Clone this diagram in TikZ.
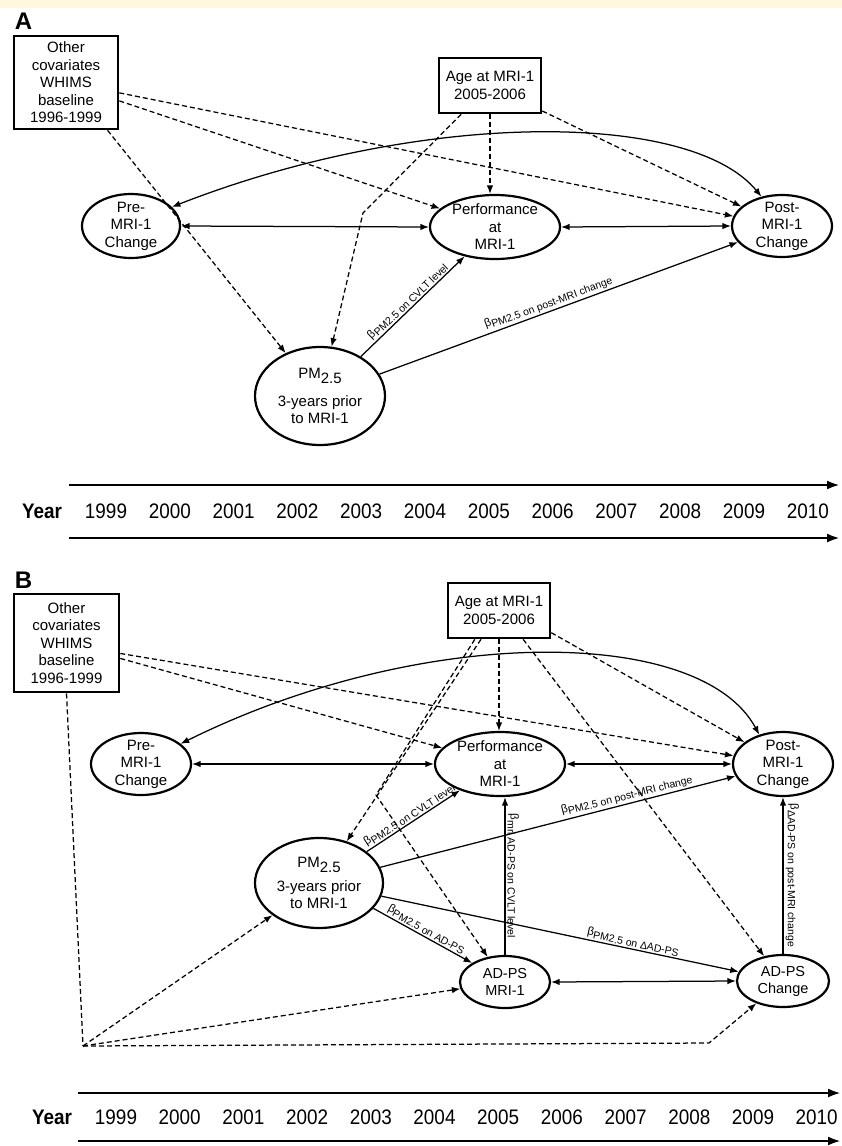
\documentclass[tikz,border=0pt]{standalone}
\usepackage{fontspec}
\setmainfont{Liberation Sans}
\newfontfamily\yearfont[FakeStretch=0.9]{Liberation Sans}
\usetikzlibrary{arrows.meta,shapes.geometric,calc}
\definecolor{stripbeige}{RGB}{255,248,222}
\newcommand\blab[1]{{\fontsize{11.5}{12}\selectfont β\raisebox{-2.8pt}{\fontsize{10.5}{11}\selectfont #1}}}
\begin{document}
\begin{tikzpicture}[x=1pt,y=-1pt,
  every node/.style={font=\fontsize{15}{17.5}\selectfont, inner sep=0pt, align=center},
  ell/.style={ellipse, draw, line width=2.2pt, inner sep=-10pt},
  box/.style={rectangle, draw, line width=2.6pt, inner sep=0pt},
  con/.style={line width=1.25pt, -{Latex[length=8.5pt,width=6.5pt]}},
  dcon/.style={line width=1.25pt, dash pattern=on 5pt off 3pt, -{Latex[length=8.5pt,width=6.5pt]}},
  dline/.style={line width=1.25pt, dash pattern=on 5pt off 3pt},
  bicon/.style={line width=1.25pt, {Latex[length=8.5pt,width=6.5pt]}-{Latex[length=8.5pt,width=6.5pt]}},
  lab/.style={inner sep=1.5pt, sloped, above},
  vlab/.style={inner sep=2pt, midway, anchor=south, rotate=-90},
  tl/.style={line width=2.5pt, -{Latex[length=13pt,width=9pt]}},
  yr/.style={font=\yearfont\fontsize{21}{21}\selectfont},
  yrb/.style={font=\yearfont\bfseries\fontsize{21}{21}\selectfont},
  panel/.style={font=\bfseries\fontsize{24}{24}\selectfont}
]
\useasboundingbox (0,0) rectangle (842,1146);
\fill[stripbeige] (0,0) rectangle (842,8);

% ================= Panel A =================
\node[panel] (labA) at (23.5,21) {A};
\node[box, minimum width=104pt, minimum height=93pt] (othA) at (66,82.5) {Other\\covariates\\WHIMS\\baseline\\1996-1999};
\node[box, minimum width=102pt, minimum height=55pt] (ageA) at (490,85.5) {Age at MRI-1\\2005-2006};
\node[ell, minimum width=98pt, minimum height=64pt] (preA) at (131,226) {Pre-\\MRI-1\\Change};
\node[ell, minimum width=130pt, minimum height=64pt] (perfA) at (495,227) {Performance\\at\\MRI-1};
\node[ell, minimum width=100pt, minimum height=62pt] (postA) at (782,226) {Post-\\MRI-1\\Change};
\node[ell, minimum width=130pt, minimum height=98pt] (pmA) at (320,396) {PM\raisebox{-5pt}{2.5}\\[10pt]3-years prior\\to MRI-1};

\draw[dcon] (othA.-11) -- (postA);
\draw[dcon] (othA.-19) -- (perfA);
\draw[dcon] (othA.-49) -- (pmA);
\coordinate (bendA) at (363,213);
\draw[dcon] (ageA.-135) -- (bendA) -- (pmA);
\draw[dcon] (ageA.south) -- (ageA.south |- perfA.north);
\draw[dcon] (ageA.-26) -- (postA);
\draw[bicon] (postA.125) .. controls (690,110) and (420,110) .. (preA.25);
\draw[bicon] (preA.east) -- (perfA.west);
\draw[bicon] (perfA.east) -- (postA.west);
\draw[con] (pmA) -- node[lab, midway]{\blab{PM2.5 on CVLT level}} (perfA);
\draw[con] (pmA) -- node[lab, pos=0.48]{\blab{PM2.5 on post-MRI change}} (postA);

% timeline A
\coordinate (tAas) at (69,485); \coordinate (tAae) at (840,485);
\coordinate (tAbs) at (69,538); \coordinate (tAbe) at (840,538);
\draw[tl] (tAas) -- (tAae);
\draw[tl] (tAbs) -- (tAbe);
\node[yrb] (yearA) at (42,511) {Year};
\foreach \i [evaluate=\i as \x using {106+63.8*(\i-1999)}] in {1999,...,2010}
  \node[yr] (yA\i) at (\x,511) {\i};

% ================= Panel B =================
\node[panel] (labB) at (23.5,580) {B};
\node[box, minimum width=105pt, minimum height=98pt] (othB) at (66.5,643) {Other\\covariates\\WHIMS\\baseline\\1996-1999};
\node[box, minimum width=102pt, minimum height=55pt] (ageB) at (499,610.5) {Age at MRI-1\\2005-2006};
\node[ell, minimum width=100pt, minimum height=62pt] (preB) at (141,764) {Pre-\\MRI-1\\Change};
\node[ell, minimum width=130pt, minimum height=64pt] (perfB) at (500,764) {Performance\\at\\MRI-1};
\node[ell, minimum width=100pt, minimum height=64pt] (postB) at (783,764) {Post-\\MRI-1\\Change};
\node[ell, minimum width=128pt, minimum height=90pt] (pmB) at (319,883) {PM\raisebox{-5pt}{2.5}\\[6pt]3-years prior\\to MRI-1};
\node[ell, minimum width=90pt, minimum height=52pt, font=\fontsize{14.5}{17}\selectfont] (admB) at (505,982) {AD-PS\\MRI-1};
\node[ell, minimum width=92pt, minimum height=52pt, font=\fontsize{14.5}{17}\selectfont] (adcB) at (783,981) {AD-PS\\Change};

\draw[dcon] (othB.-11) -- (postB);
\draw[dcon] (othB.-16) -- (perfB);
\coordinate (cornB) at (83,1046);
\draw[dline] (othB.south) -- (cornB);
\draw[dcon] (cornB) -- (pmB);
\draw[dcon] (cornB) -- (admB);
\coordinate (kneeB) at (709,1043);
\draw[dcon] (cornB) -- (kneeB) -- (adcB);

\draw[dcon] (ageB.-122) -- (pmB);
\coordinate (bendB) at (376,795);
\draw[dcon] (ageB.-130) -- (bendB) -- (admB);
\draw[dcon] (ageB.south) -- (ageB.south |- perfB.north);
\draw[dcon] (ageB.-50) -- (adcB);
\draw[dcon] (ageB.-23) -- (postB);

\draw[bicon] (postB.129) .. controls (700,625) and (420,625) .. (preB.27);
\draw[bicon] (preB.east) -- (perfB.west);
\draw[bicon] (perfB.east) -- (postB.west);
\draw[con] (pmB) -- node[lab, midway]{\blab{PM2.5 on CVLT level}} (perfB);
\draw[con] (pmB) -- node[lab, pos=0.7]{\blab{PM2.5 on post-MRI change}} (postB);
\draw[con] (pmB.-25) -- node[lab, midway]{\blab{PM2.5 on AD-PS}} (admB.150);
\draw[con] (pmB) -- node[lab, pos=0.7]{\blab{PM2.5 on ΔAD-PS}} (adcB);
\draw[con] (admB.north) -- node[vlab]{\blab{mri AD-PS on CVLT level}} (admB.north |- perfB.south);
\draw[con] (adcB.north) -- node[vlab]{\blab{ΔAD-PS on post-MRI change}} (adcB.north |- postB.south);
\draw[bicon] (admB.east) -- (adcB.west);

% timeline B
\coordinate (tBas) at (78,1093); \coordinate (tBae) at (841,1093);
\coordinate (tBbs) at (78,1141); \coordinate (tBbe) at (841,1141);
\draw[tl] (tBas) -- (tBae);
\draw[tl] (tBbs) -- (tBbe);
\node[yrb] (yearB) at (52,1117) {Year};
\foreach \i [evaluate=\i as \x using {116+63.7*(\i-1999)}] in {1999,...,2010}
  \node[yr] (yB\i) at (\x,1117) {\i};
\end{tikzpicture}
\end{document}
